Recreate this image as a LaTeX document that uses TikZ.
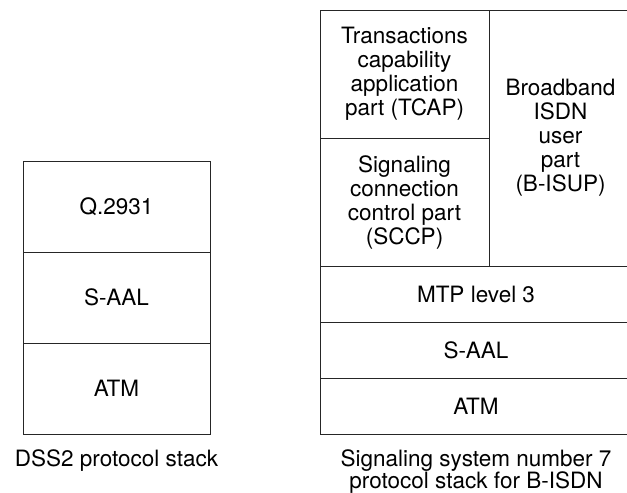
\documentclass[tikz,border=0pt]{standalone}
\usepackage{fontspec}
\setmainfont{TeX Gyre Heros}
\usetikzlibrary{positioning}
\tikzstyle{Layer}     = [rectangle, draw=black!85, line width=0.9pt, inner sep=0pt, outer sep=0pt, align=center, font=\fontsize{22.5}{24}\selectfont]
\tikzstyle{DssLayer}  = [Layer, minimum width=187pt, minimum height=91pt]
\tikzstyle{WideLayer} = [Layer, minimum width=312pt, minimum height=56pt]
\tikzstyle{Caption}   = [inner sep=0pt, align=center, font=\fontsize{22.5}{21}\selectfont]
\begin{document}
\begin{tikzpicture}

\path[use as bounding box, clip] (0,0) rectangle (627pt,493pt);

%% ------------------------------------------------------------ [ DSS2 stack ]
\node (q2931) [DssLayer, anchor=north west] at (23pt,332pt) {Q.2931};
\node (dssaal) [DssLayer, below = 0pt of q2931] {S-AAL};
\node (dssatm) [DssLayer, below = 0pt of dssaal] {ATM};
\node (dsscap) [Caption, below = 15pt of dssatm] {DSS2 protocol stack};

%% ----------------------------------------------------------- [ SS7 stack ]
\node (tcap) [Layer, minimum width=169pt, minimum height=128pt,
              anchor=north west] at (320pt,483pt)
             {Transactions\\capability\\application\\part (TCAP)};
\node (sccp) [Layer, minimum width=169pt, minimum height=128pt,
              below = 0pt of tcap]
             {Signaling\\connection\\control part\\(SCCP)};
\node (bisup) [Layer, minimum width=143pt, minimum height=256pt,
               anchor=north west] at (tcap.north east)
              {Broadband\\ISDN\\user\\part\\(B-ISUP)};
\node (mtp) [WideLayer, anchor=north west] at (sccp.south west) {MTP level 3};
\node (ssaal) [WideLayer, below = 0pt of mtp] {S-AAL};
\node (ssatm) [WideLayer, below = 0pt of ssaal] {ATM};
\node (sscap) [Caption, below = 15pt of ssatm]
              {Signaling system number 7\\protocol stack for B-ISDN};
\end{tikzpicture}
\end{document}
